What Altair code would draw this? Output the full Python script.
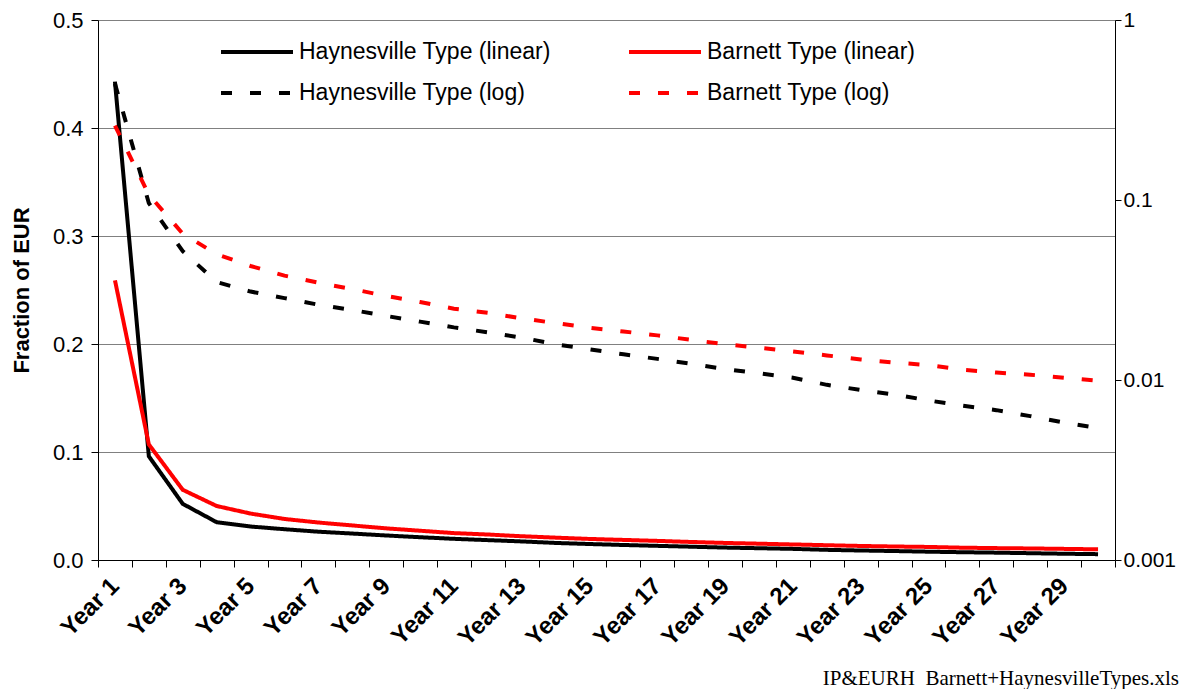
import altair as alt
import pandas as pd

years = [f"Year {i}" for i in range(1, 31)]
odd_years = [f"Year {i}" for i in range(1, 31, 2)]

haynesville = [0.443, 0.096, 0.052, 0.035, 0.031, 0.0285, 0.0262, 0.0245, 0.0227, 0.0211,
               0.0196, 0.0184, 0.0172, 0.0158, 0.0148, 0.0139, 0.0131, 0.0123, 0.0115, 0.0109,
               0.0103, 0.0094, 0.0088, 0.0083, 0.0077, 0.0072, 0.0068, 0.0063, 0.0058, 0.0054]
barnett = [0.259, 0.107, 0.065, 0.050, 0.043, 0.038, 0.0347, 0.032, 0.0293, 0.0271,
           0.0249, 0.0236, 0.0220, 0.0207, 0.0195, 0.0186, 0.0177, 0.0167, 0.0158, 0.0151,
           0.0144, 0.0137, 0.0130, 0.0125, 0.0121, 0.0114, 0.0110, 0.0107, 0.0103, 0.0099]

# legend is filled column by column: column 1 = Haynesville, column 2 = Barnett
series_names = ["Haynesville Type (linear)", "Haynesville Type (log)",
                "Barnett Type (linear)", "Barnett Type (log)"]
series_colors = ["#000000", "#000000", "#ff0000", "#ff0000"]
series_dashes = [[1, 0], [11, 18], [1, 0], [11, 18]]

left_ticks = [0.0, 0.1, 0.2, 0.3, 0.4, 0.5]
right_ticks = [0.001, 0.01, 0.1, 1]
footnote = "IP&EURH\u00a0 Barnett+HaynesvilleTypes.xls"

rows = []
for yr, h, b in zip(years, haynesville, barnett):
    rows.append({"year": yr, "value": h, "series": "Haynesville Type (linear)", "kind": "linear"})
    rows.append({"year": yr, "value": b, "series": "Barnett Type (linear)", "kind": "linear"})
    rows.append({"year": yr, "value": h, "series": "Haynesville Type (log)", "kind": "log"})
    rows.append({"year": yr, "value": b, "series": "Barnett Type (log)", "kind": "log"})
df = pd.DataFrame(rows)

FONT = "Liberation Sans"

legend = alt.Legend(
    orient="none", legendX=139, legendY=12, columns=2, title=None,
    symbolType="M-2,0L2,0", symbolSize=1296, symbolStrokeWidth=4,
    labelFont=FONT, labelFontSize=23, labelColor="black", labelOffset=22,
    columnPadding=70, rowPadding=9, padding=0, labelLimit=400,
)

x_enc = alt.X(
    "year:N", sort=years, bandPosition=0.5,
    scale=alt.Scale(type="band", paddingInner=0, paddingOuter=0),
    axis=alt.Axis(
        title=None, tickBand="extent", labelAngle=-45, labelAlign="right",
        labelBaseline="middle", labelFont=FONT, labelFontSize=24, labelFontWeight="bold",
        labelColor="black", labelPadding=15, tickSize=7, tickColor="black",
        domainColor="black", grid=False,
        labelExpr="indexof(" + str(odd_years).replace("'", '"') + ", datum.value) >= 0 ? datum.value : ''",
        labelOverlap=False,
    ),
)

color_enc = alt.Color("series:N", scale=alt.Scale(domain=series_names, range=series_colors), legend=legend)
dash_enc = alt.StrokeDash("series:N", scale=alt.Scale(domain=series_names, range=series_dashes), legend=legend)

base = alt.Chart(df)

lin = base.transform_filter(alt.datum.kind == "linear").mark_line(strokeWidth=4).encode(
    x=x_enc,
    y=alt.Y("value:Q", scale=alt.Scale(domain=[0, 0.5], nice=False),
            axis=alt.Axis(values=left_ticks, format=".1f", title="Fraction of EUR",
                          titleFont=FONT, titleFontSize=22, titleFontWeight="bold", titleColor="black",
                          titlePadding=19, labelFont=FONT, labelFontSize=22, labelColor="black",
                          labelPadding=8, tickSize=7, tickColor="black", domainColor="black",
                          grid=True, gridColor="#808080", gridWidth=1)),
    color=color_enc,
    strokeDash=dash_enc,
    detail="series:N",
)

logl = base.transform_filter(alt.datum.kind == "log").mark_line(strokeWidth=4).encode(
    x=x_enc,
    y=alt.Y("value:Q", scale=alt.Scale(type="log", domain=[0.001, 1], nice=False),
            axis=alt.Axis(orient="right", values=right_ticks, format="~g", title=None,
                          labelFont=FONT, labelFontSize=21, labelColor="black",
                          labelPadding=2, tickSize=6, tickColor="black", domainColor="black",
                          grid=False)),
    color=color_enc,
    strokeDash=dash_enc,
    detail="series:N",
)

chart = alt.layer(lin, logl).resolve_scale(y="independent").properties(
    width=1017, height=540,
    padding={"left": 2, "top": 1, "right": 0, "bottom": 0},
    title=alt.TitleParams(footnote, orient="bottom", anchor="end", frame="group",
                          font="Liberation Serif", fontSize=21, fontWeight="normal",
                          color="black", dx=64, offset=18),
).configure_view(stroke=None).configure(background="white")

chart.save("out.html", embed_options={"renderer": "svg", "actions": False})
